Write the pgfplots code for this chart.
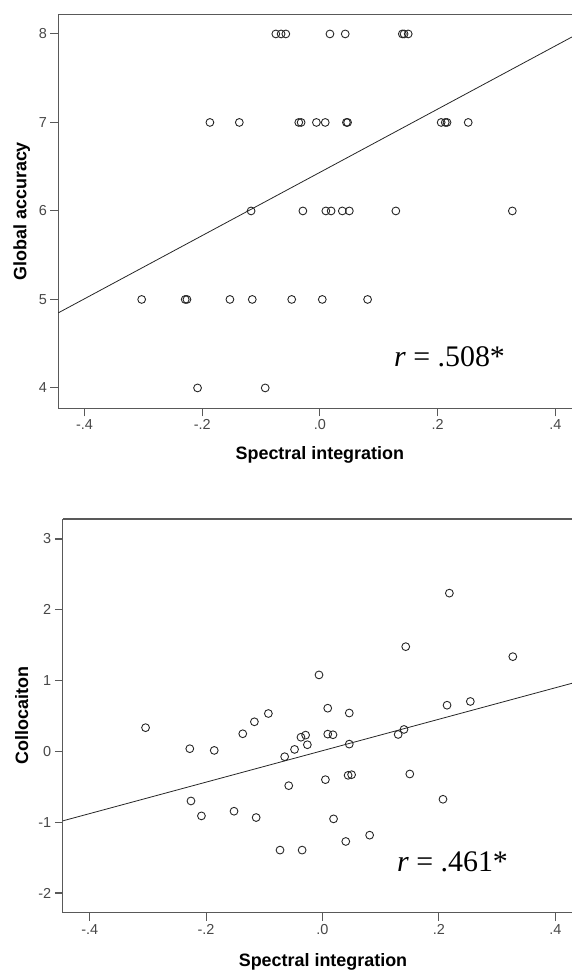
\documentclass[border=0pt]{standalone}
\usepackage{pgfplots}
\pgfplotsset{compat=1.18}
\usepackage{fontspec}
\setmainfont{Liberation Sans}
\newfontfamily\timesfont{Liberation Serif}
\pgfplotsset{
  spssaxis/.style={
    scale only axis,
    anchor=south west,
    axis x line*=bottom,
    axis y line*=left,
    axis line style={-, draw=black!65, line width=1.2bp},
    tick align=outside,
    major tick length=8bp,
    every tick/.style={draw=black!65, line width=1.1bp},
    /pgf/number format/assume math mode=true,
    tick label style={font=\fontsize{14.5}{14.5}\selectfont, text=black!72},
    label style={font=\bfseries\fontsize{18}{18}\selectfont},
    xtick={-0.4,-0.2,0,0.2,0.4},
    xticklabels={-.4,-.2,.0,.2,.4},
    clip=false,
  },
  dots/.style={only marks, mark=o, mark size=3.9bp, mark options={draw=black!85, line width=0.9bp}},
  fitline/.style={no marks, draw=black!85, line width=0.8bp},
}
\begin{document}
\begin{tikzpicture}
\useasboundingbox (0,0) rectangle (572bp,971bp);
% ---------- top panel ----------
\begin{axis}[spssaxis,
  at={(58.4bp,562.7bp)},
  width=513.6bp, height=394bp,
  xmin=-0.4445, xmax=0.4284,
  ymin=3.77, ymax=8.222,
  ytick={4,5,6,7,8},
  yticklabels={4,5,6,7,8},
  xlabel={Spectral integration},
  ylabel={Global accuracy},
  xlabel style={at={(axis description cs:0.509,-0.131)}, anchor=base},
  ylabel style={at={(axis description cs:-0.0715,0.5)}, anchor=center},
]
\addplot[dots] coordinates {
 (-0.075,8) (-0.066,8) (-0.058,8) (0.017,8) (0.043,8) (0.140,8) (0.143,8) (0.150,8)
 (-0.187,7) (-0.137,7) (-0.036,7) (-0.032,7) (-0.006,7) (0.009,7) (0.045,7) (0.047,7)
 (0.206,7) (0.213,7) (0.216,7) (0.252,7)
 (-0.117,6) (-0.029,6) (0.010,6) (0.019,6) (0.038,6) (0.050,6) (0.129,6) (0.327,6)
 (-0.303,5) (-0.229,5) (-0.226,5) (-0.153,5) (-0.115,5) (-0.048,5) (0.004,5) (0.081,5)
 (-0.208,4) (-0.093,4)
};
\addplot[fitline] coordinates {(-0.4445,4.849) (0.4284,7.966)};
\draw[black!65, line width=1.2bp] (rel axis cs:0,1) -- (rel axis cs:1,1);
\node[anchor=base west, inner sep=0pt, font=\timesfont\fontsize{30}{30}\selectfont]
  at (axis cs:0.1258,4.244) {\textit{r} = .508*};
\end{axis}
% ---------- bottom panel ----------
\begin{axis}[spssaxis,
  at={(62.8bp,58.3bp)},
  width=509.2bp, height=393.7bp,
  xmin=-0.4462, xmax=0.4287,
  ymin=-2.278, ymax=3.282,
  ytick={-2,-1,0,1,2,3},
  yticklabels={-2,-1,0,1,2,3},
  xlabel={Spectral integration},
  ylabel={Collocaiton},
  xlabel style={at={(axis description cs:0.511,-0.137)}, anchor=base},
  ylabel style={at={(axis description cs:-0.0807,0.5)}, anchor=center},
]
\addplot[dots] coordinates {
 (0.218,2.235) (0.143,1.479) (0.327,1.338) (-0.006,1.080)
 (-0.304,0.335) (-0.093,0.535) (-0.117,0.418) (0.009,0.610) (0.046,0.542)
 (0.214,0.652) (0.254,0.705)
 (-0.137,0.249) (-0.037,0.200) (-0.029,0.230) (-0.026,0.094) (0.009,0.244)
 (0.018,0.235) (0.046,0.103) (0.130,0.239) (0.140,0.310)
 (-0.228,0.038) (-0.186,0.014) (-0.048,0.028) (-0.065,-0.075)
 (0.005,-0.399) (0.044,-0.338) (0.050,-0.329) (0.150,-0.319)
 (-0.058,-0.484) (0.207,-0.676) (-0.226,-0.700)
 (-0.208,-0.911) (-0.152,-0.845) (-0.114,-0.934) (0.019,-0.953)
 (0.081,-1.183) (0.040,-1.272) (-0.073,-1.394) (-0.035,-1.394)
};
\addplot[fitline] coordinates {(-0.4462,-0.981) (0.4287,0.962)};
\draw[black!65, line width=1.2bp] (rel axis cs:0,1) -- (rel axis cs:1,1);
\node[anchor=base west, inner sep=0pt, font=\timesfont\fontsize{30}{30}\selectfont]
  at (axis cs:0.128,-1.70) {\textit{r} = .461*};
\end{axis}
\end{tikzpicture}
\end{document}
